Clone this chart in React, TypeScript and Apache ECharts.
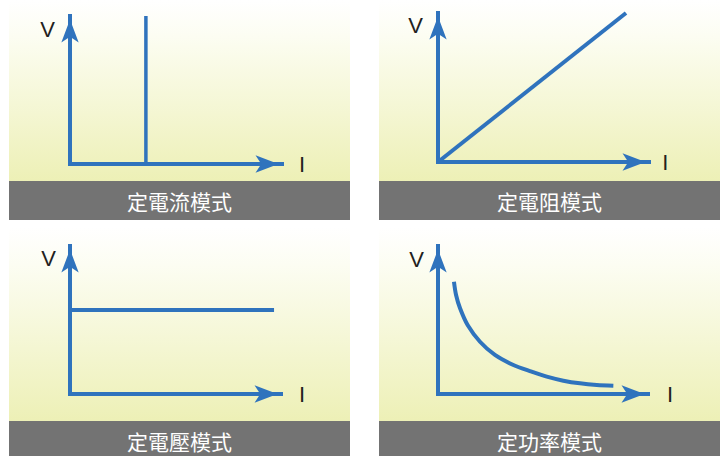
import React, { useEffect, useRef } from 'react';
import * as echarts from 'echarts';

// ---- data ----
const PANEL_TITLES = ['定電流模式', '定電阻模式', '定電壓模式', '定功率模式'];
const Y_AXIS_NAME = 'V';
const X_AXIS_NAME = 'I';
const AXIS_MIN = 0;
const AXIS_MAX = 100;
const CONSTANT_CURRENT = [[35.8, 0], [35.8, 100]];
const CONSTANT_RESISTANCE = [[0, 0], [89.1, 100]];
const CONSTANT_VOLTAGE = [[0, 56.8], [96.7, 56.8]];
const CONSTANT_POWER = [
  [7.6, 75.9], [8.6, 66.9], [10.5, 57.9], [14.1, 46.6], [20.0, 35.3], [27.1, 26.4],
  [35.9, 19.6], [44.6, 15.1], [51.8, 11.7], [59.7, 9.0], [67.6, 7.2], [75.6, 6.1], [83.5, 5.6],
];
const SERIES_DATA = [CONSTANT_CURRENT, CONSTANT_RESISTANCE, CONSTANT_VOLTAGE, CONSTANT_POWER];

// ---- layout / style ----
const BLUE = '#2f73bd';
const TEXT_DARK = '#231f20';
const GRIDS = [
  { left: 70, top: 16, width: 212, height: 148 },
  { left: 438, top: 13, width: 211, height: 149 },
  { left: 70, top: 246, width: 211, height: 148 },
  { left: 438, top: 246, width: 210, height: 148 },
];
const PANELS = [
  { x: 9, y: 0, bgH: 181, barH: 39 },
  { x: 379, y: 0, bgH: 181, barH: 39 },
  { x: 9, y: 227, bgH: 194, barH: 39 },
  { x: 379, y: 227, bgH: 194, barH: 39 },
];
const PANEL_W = 341;
const I_GAP = [17, 13.3, 18, 19];
const I_PAD = [[5, 0, 0, 0], [0, 0, 7, 0], [3, 0, 0, 0], [3, 0, 0, 0]];
const V_GAP = [-13, -12.5, -12.5, -13.5];
const V_PAD = [[0, 15, 0, 0], [0, 15, 0, 0], [0, 14, 0, 0], [0, 14, 0, 0]];
const SERIES_WIDTH = [3.5, 4, 4, 4];

export default function App() {
  const ref = useRef<HTMLDivElement>(null);
  useEffect(() => {
    document.body.style.margin = '0';
    if (!ref.current) return;
    const chart = echarts.init(ref.current, null, { renderer: 'svg' });

    const axisLine = {
      show: true,
      onZero: false,
      symbol: ['none', 'arrow'],
      symbolSize: [13, 23],
      symbolOffset: [0, -3.5],
      lineStyle: { color: BLUE, width: 4, cap: 'square' },
    };

    const graphic: any[] = [];
    PANELS.forEach((p, i) => {
      graphic.push({
        type: 'rect',
        z: -10,
        silent: true,
        shape: { x: p.x, y: p.y, width: PANEL_W, height: p.bgH },
        style: {
          fill: {
            type: 'linear', x: 0, y: 0, x2: 0, y2: 1,
            colorStops: [
              { offset: 0, color: '#ffffff' },
              { offset: 0.2, color: '#fcfdf2' },
              { offset: 1, color: '#edf0b6' },
            ],
          },
        },
      });
      graphic.push({
        type: 'rect',
        z: -10,
        silent: true,
        shape: { x: p.x, y: p.y + p.bgH, width: PANEL_W, height: p.barH },
        style: { fill: '#737373' },
      });
      graphic.push({
        type: 'text',
        z: 10,
        silent: true,
        x: p.x + PANEL_W / 2,
        y: p.y + p.bgH + p.barH / 2,
        style: {
          text: PANEL_TITLES[i],
          fill: '#ffffff',
          font: '21px "Noto Sans CJK TC", "Noto Sans CJK SC", sans-serif',
          align: 'center',
          verticalAlign: 'middle',
        },
      });
    });

    const option: any = {
      animation: false,
      backgroundColor: '#ffffff',
      grid: GRIDS.map((g) => ({ ...g, containLabel: false, outerBoundsMode: 'none' })),
      xAxis: GRIDS.map((_, i) => ({
        type: 'value',
        gridIndex: i,
        min: AXIS_MIN,
        max: AXIS_MAX,
        z: 5,
        name: X_AXIS_NAME,
        nameLocation: 'end',
        nameGap: I_GAP[i],
        nameMoveOverlap: false,
        nameTextStyle: {
          color: TEXT_DARK,
          fontSize: 22,
          fontFamily: '"Liberation Sans", Arial, sans-serif',
          align: 'left',
          verticalAlign: 'middle',
          padding: I_PAD[i],
        },
        axisLine,
        axisTick: { show: false },
        axisLabel: { show: false },
        splitLine: { show: false },
      })),
      yAxis: GRIDS.map((_, i) => ({
        type: 'value',
        gridIndex: i,
        min: AXIS_MIN,
        max: AXIS_MAX,
        z: 5,
        name: Y_AXIS_NAME,
        nameLocation: 'end',
        nameGap: V_GAP[i],
        nameMoveOverlap: false,
        nameTextStyle: {
          color: TEXT_DARK,
          fontSize: 22,
          fontFamily: '"Liberation Sans", Arial, sans-serif',
          align: 'right',
          verticalAlign: 'middle',
          padding: V_PAD[i],
        },
        axisLine,
        axisTick: { show: false },
        axisLabel: { show: false },
        splitLine: { show: false },
      })),
      series: SERIES_DATA.map((data, i) => ({
        type: 'line',
        xAxisIndex: i,
        yAxisIndex: i,
        data,
        showSymbol: false,
        symbol: 'none',
        clip: false,
        smooth: i === 3 ? 0.3 : false,
        lineStyle: { color: BLUE, width: SERIES_WIDTH[i] },
        z: 3,
      })),
      graphic,
    };
    chart.setOption(option);
    return () => chart.dispose();
  }, []);
  return <div ref={ref} style={{ width: 726, height: 456 }} />;
}
